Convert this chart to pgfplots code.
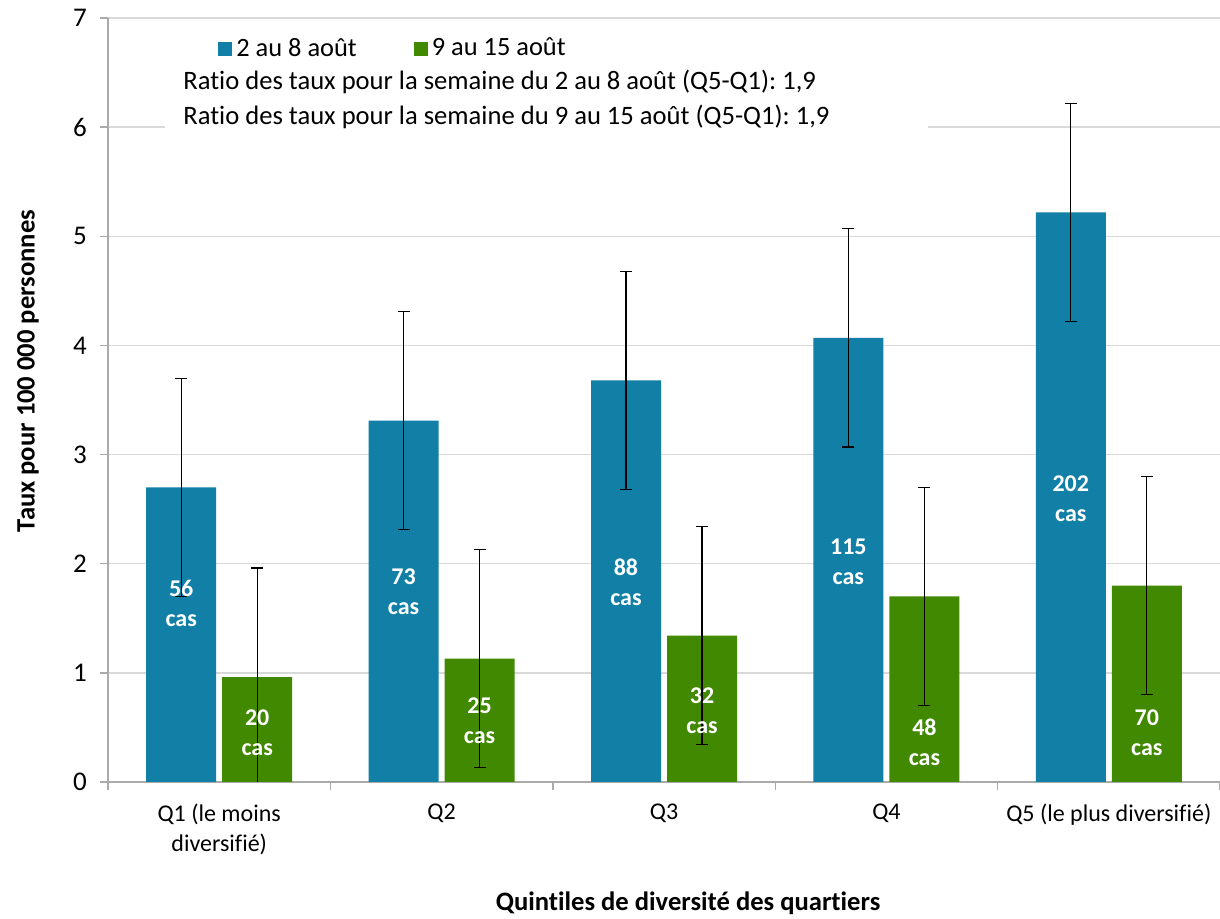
\documentclass[border=0pt]{standalone}
\usepackage{pgfplots}
\usepackage{pgfplotstable}
\pgfplotsset{compat=1.18}
\usepackage{fontspec}
\setmainfont{Carlito}[Ligatures=CommonOff]
\frenchspacing
\definecolor{cblue}{RGB}{17,127,166}
\definecolor{cgreen}{RGB}{64,137,0}
\definecolor{gridc}{RGB}{217,217,217}
\definecolor{axc}{RGB}{170,170,170}
\pgfplotstableread{
x y ep em ly lab
0 2.70 1.0 1.0 1.64 56
1 3.31 1.0 1.0 1.74 73
2 3.68 1.0 1.0 1.83 88
3 4.07 1.0 1.0 2.02 115
4 5.22 1.0 1.0 2.60 202
}\bluedata
\pgfplotstableread{
x y ep em ly lab
0 0.96 1.0 1.0 0.45 20
1 1.13 1.0 1.0 0.56 25
2 1.34 1.0 1.0 0.65 32
3 1.70 1.0 1.0 0.36 48
4 1.80 1.0 1.0 0.45 70
}\greendata
\begin{document}
\begin{tikzpicture}
\begin{axis}[
  scale only axis, width=556pt, height=382pt,
  xmin=-0.5, xmax=4.5, ymin=0, ymax=7,
  axis x line*=bottom, axis y line*=left,
  axis line style={-, axc, line width=0.7pt},
  xtick={-0.5,0.5,...,4.5}, xticklabels={},
  extra x ticks={0,1,2,3,4},
  extra x tick labels={{Q1 (le moins\\diversifié)},Q2,Q3,Q4,{Q5 (le plus diversifié)}},
  extra x tick style={major tick length=0pt, tick style={draw=none}},
  xticklabel style={align=center, font=\fontsize{12}{15}\selectfont, yshift=-7.5pt},
  ytick={0,...,7},
  ymajorgrids, grid style={gridc, line width=0.7pt},
  tick align=outside, major tick length=4pt,
  tick style={axc, line width=0.7pt},
  yticklabel style={font=\fontsize{13.5}{15}\selectfont, xshift=-3pt},
  /pgf/number format/assume math mode=true,
  ylabel={Taux pour 100 000 personnes},
  ylabel style={font=\bfseries\fontsize{13.3}{15}\selectfont, at={(axis description cs:-0.0719,0.538)}, anchor=center, rotate=0},
  xlabel={Quintiles de diversité des quartiers},
  xlabel style={font=\bfseries\fontsize{13.3}{15}\selectfont, at={(axis description cs:0.5216,0)}, anchor=center, yshift=-60.5pt},
  legend style={at={(axis description cs:0.0989,0.960)}, anchor=west, draw=none, fill=none,
    legend columns=2, font=\fontsize{13.2}{15}\selectfont, inner sep=0pt,
    /tikz/every even column/.append style={column sep=26.5pt}},
  legend cell align=left,
]
\addplot[ybar, bar width=35pt, bar shift=-19pt, fill=cblue, draw=none,
  legend image code/.code={\fill[cblue] (0pt,-3.5pt) rectangle (7pt,3.5pt);}]
  table[x=x, y=y]{\bluedata};
\addplot[ybar, bar width=35pt, bar shift=19pt, fill=cgreen, draw=none,
  legend image code/.code={\fill[cgreen] (0pt,-3.5pt) rectangle (7pt,3.5pt);}]
  table[x=x, y=y]{\greendata};
\legend{2 au 8 août, 9 au 15 août}
\addplot[draw=none, mark=none, forget plot,
  error bars/.cd, y dir=both, y explicit,
  error bar style={black, line width=0.6pt},
  error mark options={rotate=90, mark size=3pt, black, line width=0.6pt}]
  table[x expr=\thisrow{x}-0.171, y=y, y error plus=ep, y error minus=em]{\bluedata};
\addplot[draw=none, mark=none, forget plot,
  error bars/.cd, y dir=both, y explicit,
  error bar style={black, line width=0.6pt},
  error mark options={rotate=90, mark size=3pt, black, line width=0.6pt}]
  table[x expr=\thisrow{x}+0.171, y=y, y error plus=ep, y error minus=em]{\greendata};
\addplot[draw=none, mark=none, forget plot, point meta=explicit symbolic,
  nodes near coords={\pgfplotspointmeta\\cas},
  nodes near coords style={anchor=center, align=center, text=white, font=\bfseries\fontsize{12}{15}\selectfont}]
  table[x expr=\thisrow{x}-0.171, y=ly, meta=lab]{\bluedata};
\addplot[draw=none, mark=none, forget plot, point meta=explicit symbolic,
  nodes near coords={\pgfplotspointmeta\\cas},
  nodes near coords style={anchor=center, align=center, text=white, font=\bfseries\fontsize{12}{15}\selectfont}]
  table[x expr=\thisrow{x}+0.171, y=ly, meta=lab]{\greendata};
\fill[white] (axis description cs:0.0513,0.840) rectangle (axis description cs:0.737,0.991);
\node[anchor=west, align=left, inner sep=0pt, font=\fontsize{13.3}{17.5}\selectfont]
  at (axis description cs:0.0674,0.893)
  {Ratio des taux pour la semaine du 2 au 8 août (Q5-Q1): 1,9\\Ratio des taux pour la semaine du 9 au 15 août (Q5-Q1): 1,9};
\end{axis}
\pgfresetboundingbox
\path[use as bounding box] (current axis.south west) ++(-54pt,-68.5pt) rectangle ++(610pt,459.5pt);
\end{tikzpicture}
\end{document}
